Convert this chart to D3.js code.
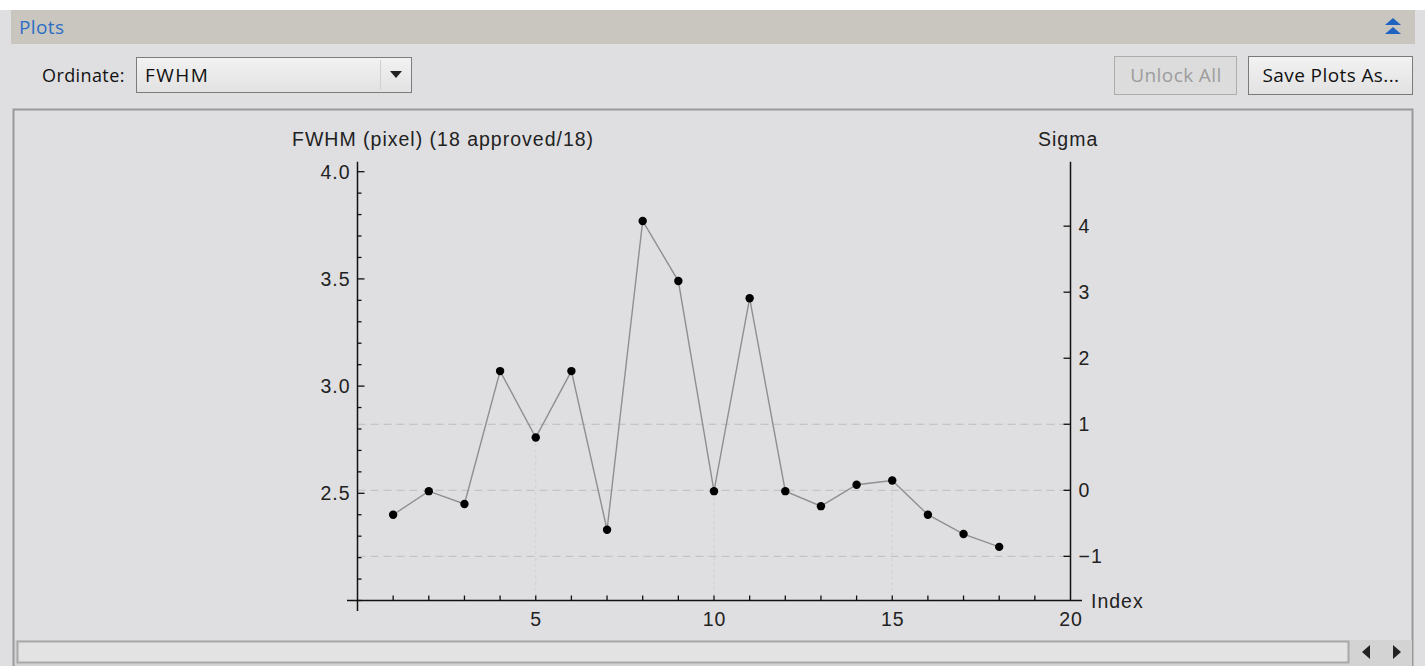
<!DOCTYPE html>
<html lang="en">
<head>
<meta charset="UTF-8">
<title>FWHM plot</title>
<style>
  body { margin: 0; background: #dfdfe1; }
  svg { display: block; }
  .ui { font-family: "Open Sans", "Noto Sans", sans-serif; font-size: 18px; letter-spacing: 0.4px; }
  .chart text { font-family: "Liberation Sans", Arial, sans-serif; font-size: 19.5px; fill: #222; letter-spacing: 1px; }
</style>
</head>
<body>
<svg id="plot" width="1425" height="666"></svg>
<script src="https://d3js.org/d3.v7.min.js"></script>
<script>
// image index and measured FWHM (pixel)
const indices = [1, 2, 3, 4, 5, 6, 7, 8, 9, 10, 11, 12, 13, 14, 15, 16, 17, 18];
const fwhm = [2.40, 2.51, 2.45, 3.07, 2.76, 3.07, 2.33, 3.77, 3.49, 2.51,
              3.41, 2.51, 2.44, 2.54, 2.56, 2.40, 2.31, 2.25];
const fwhmTicks = [2.5, 3.0, 3.5, 4.0];
const sigmaTicks = [-1, 0, 1, 2, 3, 4];
const sigmaLines = [-1, 0, 1];
const indexTicks = [5, 10, 15, 20];
const sigmaCenter = 2.514;   // median FWHM
const sigmaUnit = 0.308;     // one sigma in pixels
const titleText = "FWHM (pixel) (18 approved/18)";

const svg = d3.select("#plot");

// ---------- window chrome ----------
svg.append("rect").attr("x", 0).attr("y", 0).attr("width", 1425).attr("height", 10).attr("fill", "#fff");
svg.append("rect").attr("x", 11).attr("y", 10).attr("width", 1404).attr("height", 34).attr("fill", "#c9c6bf");
svg.append("text").attr("class", "ui").attr("x", 19).attr("y", 34)
    .attr("fill", "#2b6fc6").style("font-size", "19px").text("Plots");
// collapse icon (double chevron up)
const ic = svg.append("g").attr("fill", "#1f63c0").attr("transform", "translate(1393,27)");
ic.append("path").attr("d", "M-8,-2 L0,-9 L8,-2 Z");
ic.append("path").attr("d", "M-8,7 L0,0 L8,7 Z");

svg.append("text").attr("class", "ui").attr("x", 42).attr("y", 82).attr("fill", "#111").text("Ordinate:");
const grad = svg.append("defs").append("linearGradient").attr("id", "btn").attr("x1", 0).attr("x2", 0).attr("y1", 0).attr("y2", 1);
grad.append("stop").attr("offset", "0%").attr("stop-color", "#f2f2f2");
grad.append("stop").attr("offset", "100%").attr("stop-color", "#e2e2e2");
svg.append("rect").attr("x", 136.5).attr("y", 57.5).attr("width", 275).attr("height", 35)
    .attr("fill", "url(#btn)").attr("stroke", "#7c7c7c");
svg.append("line").attr("x1", 380.5).attr("x2", 380.5).attr("y1", 60).attr("y2", 90).attr("stroke", "#d0d0d0");
svg.append("path").attr("d", "M390,71 L402,71 L396,78 Z").attr("fill", "#222");
svg.append("text").attr("class", "ui").attr("x", 145).attr("y", 82).attr("fill", "#111")
    .style("font-size", "19px").style("letter-spacing", "1.5px").text("FWHM");

svg.append("rect").attr("x", 1114.5).attr("y", 56.5).attr("width", 122).attr("height", 38)
    .attr("fill", "#dcdcdc").attr("stroke", "#adadad");
svg.append("text").attr("class", "ui").attr("x", 1176).attr("y", 82).attr("text-anchor", "middle")
    .attr("fill", "#9c9c9c").style("font-size", "19px").text("Unlock All");
svg.append("rect").attr("x", 1248.5).attr("y", 56.5).attr("width", 164).attr("height", 38)
    .attr("fill", "url(#btn)").attr("stroke", "#7a7a7a");
svg.append("text").attr("class", "ui").attr("x", 1331).attr("y", 82).attr("text-anchor", "middle")
    .attr("fill", "#111").style("font-size", "19px").text("Save Plots As...");

// plot panel
svg.append("rect").attr("x", 13.5).attr("y", 109.5).attr("width", 1399).attr("height", 570)
    .attr("fill", "#dfdfe1").attr("stroke", "#9a9a9a").attr("stroke-width", 2);

// scrollbar
svg.append("rect").attr("x", 15).attr("y", 640).attr("width", 1397).attr("height", 26).attr("fill", "#d3d3d3");
svg.append("rect").attr("x", 17.5).attr("y", 641.5).attr("width", 1331).attr("height", 21)
    .attr("fill", "#e3e3e3").attr("stroke", "#a9a9a9").attr("stroke-width", 2);
svg.append("path").attr("d", "M1362,652 L1370,645 L1370,659 Z").attr("fill", "#222");
svg.append("path").attr("d", "M1393,645 L1401,652 L1393,659 Z").attr("fill", "#222");

// ---------- chart ----------
const g = svg.append("g").attr("class", "chart");
const x = d3.scaleLinear().domain([0, 20]).range([357.5, 1070.5]);
const y = d3.scaleLinear().domain([2.0, 4.0]).range([600.5, 171.7]);
const ySigma = d3.scaleLinear()
    .domain([y.invert(600.5) - sigmaCenter, y.invert(161.7) - sigmaCenter].map(v => v / sigmaUnit))
    .range([600.5, 161.7]);

// sigma reference lines
g.selectAll(".sig").data(sigmaLines).enter().append("line")
    .attr("x1", x(0)).attr("x2", x(20))
    .attr("y1", d => ySigma(d)).attr("y2", d => ySigma(d))
    .attr("stroke", "#bdbdbd").attr("stroke-dasharray", "8,5");

// drop lines at major index ticks
const pts = indices.map((d, i) => ({ i: d, v: fwhm[i] }));
g.selectAll(".drop").data(pts.filter(p => indexTicks.includes(p.i))).enter().append("line")
    .attr("x1", d => x(d.i)).attr("x2", d => x(d.i))
    .attr("y1", d => y(d.v)).attr("y2", y(2.0))
    .attr("stroke", "#cfcfcf").attr("stroke-dasharray", "3,3");

// left axis
const left = g.append("g").attr("transform", `translate(${x(0)},0)`);
left.append("line").attr("y1", 161.7).attr("y2", 611).attr("stroke", "#111").attr("stroke-width", 1.5);
const minor = d3.range(21).map(k => 2.0 + k * 0.1).filter(v => v <= 4.001);
left.selectAll(".mt").data(minor).enter().append("line")
    .attr("x1", 0).attr("x2", d => fwhmTicks.some(t => Math.abs(t - d) < 1e-6) ? 7 : 4)
    .attr("y1", d => y(d)).attr("y2", d => y(d)).attr("stroke", "#111").attr("stroke-width", 1.3);
left.selectAll(".tl").data(fwhmTicks).enter().append("text")
    .attr("x", -7).attr("y", d => y(d) + 7).attr("text-anchor", "end").text(d => d3.format(".1f")(d));

// right sigma axis
const right = g.append("g").attr("transform", `translate(${x(20)},0)`);
right.append("line").attr("y1", 161.7).attr("y2", 600.5).attr("stroke", "#111").attr("stroke-width", 1.5);
right.selectAll(".st").data(sigmaTicks).enter().append("line")
    .attr("x1", -7).attr("x2", 0).attr("y1", d => ySigma(d)).attr("y2", d => ySigma(d))
    .attr("stroke", "#111").attr("stroke-width", 1.3);
right.selectAll(".sl").data(sigmaTicks).enter().append("text")
    .attr("x", 8).attr("y", d => ySigma(d) + 7).text(d => d3.format("d")(d));

// bottom axis
const bottom = g.append("g").attr("transform", `translate(0,${y(2.0)})`);
bottom.append("line").attr("x1", 347).attr("x2", 1082).attr("stroke", "#111").attr("stroke-width", 1.5);
bottom.selectAll(".xt").data(d3.range(1, 20)).enter().append("line")
    .attr("x1", d => x(d)).attr("x2", d => x(d))
    .attr("y1", 0).attr("y2", -5).attr("stroke", "#111").attr("stroke-width", 1.3);
bottom.selectAll(".xl").data(indexTicks).enter().append("text")
    .attr("x", d => x(d) + 0.5).attr("y", 25).attr("text-anchor", "middle").text(d => d);
g.append("text").attr("x", 1091).attr("y", 608).text("Index");

// titles
g.append("text").attr("x", 292).attr("y", 146).text(titleText);
g.append("text").attr("x", 1038).attr("y", 146).text("Sigma");

// series
g.append("path").datum(pts)
    .attr("d", d3.line().x(d => x(d.i)).y(d => y(d.v)))
    .attr("fill", "none").attr("stroke", "#8f8f8f").attr("stroke-width", 1.4);
g.selectAll(".pt").data(pts).enter().append("circle")
    .attr("cx", d => x(d.i)).attr("cy", d => y(d.v)).attr("r", 4.2).attr("fill", "#000");
</script>
</body>
</html>
